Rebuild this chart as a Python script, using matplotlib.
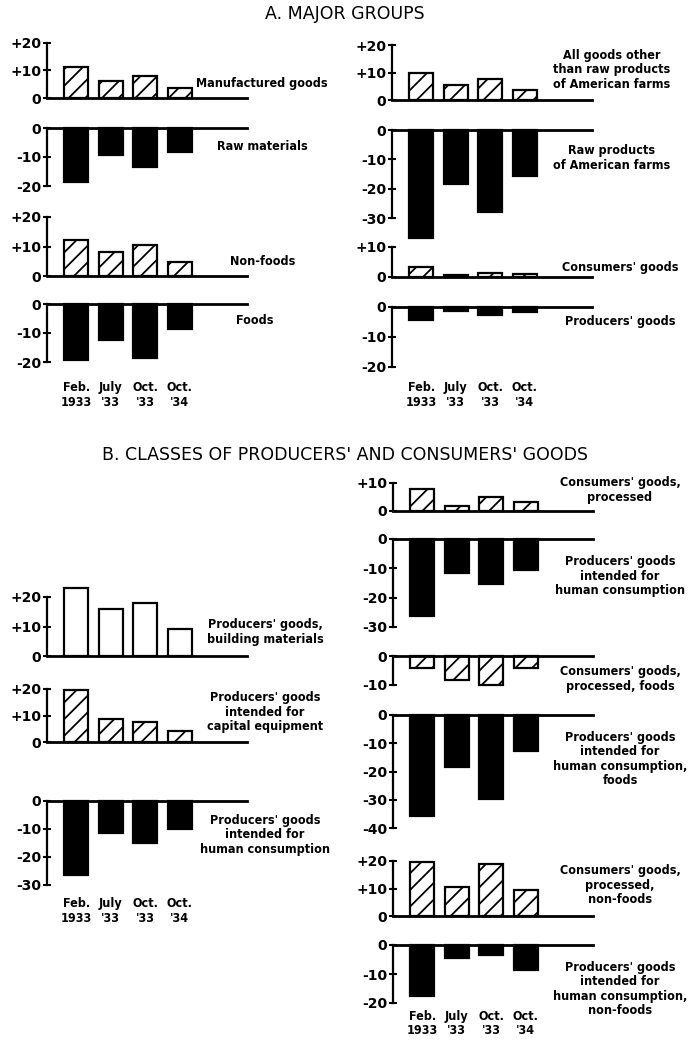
import matplotlib
matplotlib.use("Agg")
import matplotlib.pyplot as plt

plt.rcParams['hatch.linewidth'] = 1.3

periods = ["Feb.\n1933", "July\n'33", "Oct.\n'33", "Oct.\n'34"]

# A. major groups
manufactured = [11.2, 6.0, 8.1, 3.6]
raw_materials = [-18.6, -9.2, -13.4, -8.4]
non_foods = [12.2, 8.1, 10.5, 4.6]
foods = [-19.4, -12.4, -18.6, -8.5]
other_than_farm = [10.0, 5.4, 7.8, 3.6]
farm_raw = [-36.7, -18.4, -27.9, -15.6]
consumers = [3.3, 0.7, 1.5, 1.0]
producers = [-4.3, -1.3, -2.5, -1.5]

# B. classes of producers' and consumers' goods
building = [22.9, 16.1, 18.0, 9.0]
capital = [19.5, 8.7, 7.4, 4.2]
human_cons = [-26.5, -11.5, -15.0, -10.0]
cons_processed = [8.0, 1.8, 5.0, 3.3]
human_cons_r = [-26.4, -11.6, -15.4, -10.5]
cons_proc_foods = [-4.3, -8.3, -10.0, -4.3]
human_foods = [-35.6, -18.5, -29.7, -12.6]
cons_proc_nonfoods = [19.7, 10.7, 18.8, 9.5]
human_nonfoods = [-17.6, -4.6, -3.6, -8.7]

W, H = 689, 1045
fig = plt.figure(figsize=(W / 100, H / 100), dpi=100)
lab_font = dict(family='DejaVu Sans', fontstretch='condensed', fontweight='bold', fontsize=9)


def fy(y):
    return 1 - y / H


def panel(left, top, bottom, ticks, vals, style, label, lx, ly):
    ax = fig.add_axes([left / W, fy(bottom), 200 / W, (bottom - top) / H])
    lo, hi = min(ticks), max(ticks)
    ax.set_xlim(-0.85, 4.95)
    ax.set_ylim(lo, hi)
    if style == 'hatch':
        kw = dict(facecolor='white', edgecolor='black', hatch='//')
    elif style == 'open':
        kw = dict(facecolor='white', edgecolor='black')
    else:
        kw = dict(facecolor='black', edgecolor='black')
    ax.bar(range(len(vals)), vals, width=0.7, linewidth=1.6, clip_on=False, zorder=1, **kw)
    for s in ['right', 'top', 'bottom']:
        ax.spines[s].set_visible(False)
    ax.spines['left'].set_linewidth(1.6)
    ax.axhline(0, color='black', lw=2, clip_on=False, zorder=3)
    ax.set_xticks([])
    ax.set_yticks(ticks)
    ax.set_yticklabels([('+%d' % t if t > 0 else '%d' % t) for t in ticks],
                       fontsize=10, fontweight='bold')
    ax.tick_params(axis='y', direction='inout', length=6, width=1.5, pad=1)
    ax.patch.set_visible(False)
    fig.text(lx / W, fy(ly), label, ha='center', va='center', linespacing=1.15, **lab_font)
    return ax


def period_labels(left, y):
    for i, p in enumerate(periods):
        x = left + (i + 0.85) * 34.5
        fig.text(x / W, fy(y), p, ha='center', va='top', linespacing=1.15, **lab_font)


fig.text(345 / W, fy(14), "A. MAJOR GROUPS", ha='center', va='center', fontsize=12.5)
fig.text(345 / W, fy(455), "B. CLASSES OF PRODUCERS' AND CONSUMERS' GOODS",
         ha='center', va='center', fontsize=12.5)

L, R = 47, 392

# section A, left
panel(L, 43, 98, [0, 10, 20], manufactured, 'hatch', "Manufactured goods", 262, 83)
panel(L, 128, 186, [-20, -10, 0], raw_materials, 'black', "Raw materials", 262, 147)
panel(L, 217, 276, [0, 10, 20], non_foods, 'hatch', "Non-foods", 263, 262)
panel(L, 304, 362, [-20, -10, 0], foods, 'black', "Foods", 255, 320)
period_labels(L, 381)

# section A, right
panel(R, 45, 100, [0, 10, 20], other_than_farm, 'hatch',
      "All goods other\nthan raw products\nof American farms", 612, 70)
panel(R, 130, 218, [-30, -20, -10, 0], farm_raw, 'black',
      "Raw products\nof American farms", 612, 158)
panel(R, 247, 277, [0, 10], consumers, 'hatch', "Consumers' goods", 620, 268)
panel(R, 307, 367, [-20, -10, 0], producers, 'black', "Producers' goods", 620, 322)
period_labels(R, 381)

# section B, left
panel(L, 597, 656, [0, 10, 20], building, 'open',
      "Producers' goods,\nbuilding materials", 265, 632)
panel(L, 689, 742, [0, 10, 20], capital, 'hatch',
      "Producers' goods\nintended for\ncapital equipment", 265, 712)
panel(L, 801, 885, [-30, -20, -10, 0], human_cons, 'black',
      "Producers' goods\nintended for\nhuman consumption", 265, 835)
period_labels(L, 897)

# section B, right
R2 = 393
panel(R2, 483, 511, [0, 10], cons_processed, 'hatch',
      "Consumers' goods,\nprocessed", 620, 490)
panel(R2, 539, 627, [-30, -20, -10, 0], human_cons_r, 'black',
      "Producers' goods\nintended for\nhuman consumption", 620, 576)
panel(R2, 656, 685, [-10, 0], cons_proc_foods, 'hatch',
      "Consumers' goods,\nprocessed, foods", 620, 679)
panel(R2, 715, 828, [-40, -30, -20, -10, 0], human_foods, 'black',
      "Producers' goods\nintended for\nhuman consumption,\nfoods", 620, 759)
panel(R2, 861, 916, [0, 10, 20], cons_proc_nonfoods, 'hatch',
      "Consumers' goods,\nprocessed,\nnon-foods", 620, 885)
panel(R2, 945, 1003, [-20, -10, 0], human_nonfoods, 'black',
      "Producers' goods\nintended for\nhuman consumption,\nnon-foods", 620, 989)
period_labels(R2, 1010)

fig.savefig("out.png", dpi=100, facecolor='white')
